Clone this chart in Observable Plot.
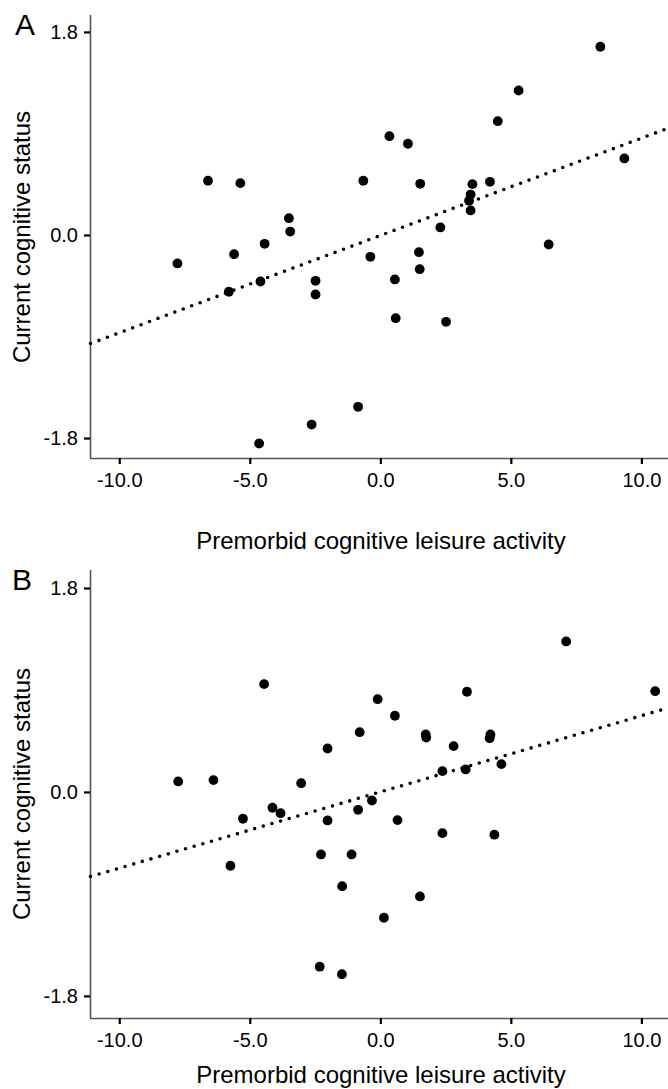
<!DOCTYPE html>
<html>
<head>
<meta charset="utf-8">
<script src="https://cdn.jsdelivr.net/npm/d3@7"></script>
<script src="https://cdn.jsdelivr.net/npm/@observablehq/plot@0.6"></script>
<style>
  html, body { margin: 0; padding: 0; background: #fff; }
  #fig { position: relative; width: 668px; height: 1089px; overflow: hidden; font-family: "Liberation Sans", Arial, sans-serif; color: #000; }
  .panel { position: absolute; left: 0; }
  .lbl { position: absolute; white-space: nowrap; line-height: 1; }
  .xtitle { font-size: 24px; transform: translate(-50%, -50%); }
  .ytitle { font-size: 24px; transform: translate(-50%, -50%) rotate(-90deg); }
  .letter { font-size: 30px; transform: translate(-50%, -50%); }
</style>
</head>
<body>
<div id="fig"></div>
<script>
// ---- Data ----
const panelAX = [-6.62,-5.38,-0.67,-3.52,-3.47,-4.45,-5.62,-7.79,-0.40,-2.50,-4.61,-5.82,-2.50,
  8.41,5.28,4.48,0.33,1.04,9.33,1.51,3.51,4.18,3.44,3.38,3.44,2.28,1.46,1.49,0.54,6.43,0.57,2.50,-0.87,-2.65,-4.66];
const panelAY = [0.485,0.464,0.485,0.153,0.035,-0.074,-0.166,-0.248,-0.189,-0.402,-0.408,-0.499,-0.523,
  1.673,1.285,1.013,0.880,0.813,0.683,0.458,0.455,0.476,0.363,0.308,0.222,0.071,-0.148,-0.299,-0.390,-0.080,-0.733,-0.765,-1.519,-1.676,-1.844];

const panelBX = [-7.76,-6.41,-5.76,-5.28,-4.47,-4.15,-3.84,-3.05,-2.29,-2.34,-2.04,-2.04,-1.49,-1.48,-1.12,-0.87,-0.81,-0.34,
  -0.12,0.12,0.54,0.64,1.50,1.72,1.74,2.36,2.36,2.79,3.25,3.30,4.17,4.20,4.35,4.62,7.10,10.51];
const panelBY = [0.097,0.109,-0.647,-0.232,0.956,-0.135,-0.183,0.082,-0.547,-1.538,0.388,-0.247,-1.604,-0.827,-0.547,-0.153,0.532,-0.071,
  0.823,-1.106,0.677,-0.244,-0.918,0.512,0.485,0.188,-0.359,0.409,0.203,0.889,0.479,0.512,-0.373,0.250,1.333,0.894];

// fitted (dotted) lines, endpoints
const fitAX = [-11.12, 11.02];
const fitAY = [-0.958, 0.952];
const fitBX = [-11.12, 11.02];
const fitBY = [-0.742, 0.747];

const xTicks = [-10, -5, 0, 5, 10];
const yTicks = [-1.8, 0, 1.8];
const xTitle = "Premorbid cognitive leisure activity";
const yTitle = "Current cognitive status";
const panelLetters = ["A", "B"];

// ---- Drawing ----
const fig = document.getElementById("fig");
const toRows = (xs, ys) => xs.map((x, i) => ({x, y: ys[i]}));
const fmt = d => d.toFixed(1);

function panel({pts, fit, yDomain, height, marginTop, marginBottom}) {
  const xDomain = [-11.12, 11.02];
  return Plot.plot({
    width: 668,
    height,
    marginLeft: 90,
    marginRight: 0,
    marginTop,
    marginBottom,
    style: {fontFamily: "'Liberation Sans', Arial, sans-serif", fontSize: "20px", color: "#000", background: "#fff", overflow: "visible"},
    x: {domain: xDomain},
    y: {domain: yDomain},
    marks: [
      Plot.ruleX([xDomain[0]], {stroke: "#555", strokeWidth: 1.6}),
      Plot.ruleY([yDomain[0]], {stroke: "#555", strokeWidth: 1.6}),
      Plot.axisX({ticks: xTicks, tickFormat: fmt, tickSize: 6, tickPadding: 8, label: null, strokeWidth: 2.2, fontSize: 20}),
      Plot.axisY({ticks: yTicks, tickFormat: fmt, tickSize: 6, tickPadding: 6.5, label: null, strokeWidth: 2.2, fontSize: 20}),
      Plot.line(fit, {x: "x", y: "y", stroke: "#000", strokeWidth: 3.6, strokeDasharray: "0,9", strokeLinecap: "round"}),
      Plot.dot(pts, {x: "x", y: "y", r: 4.9, fill: "#000", stroke: "none"})
    ]
  });
}

const cfgs = [
  {top: 0, pts: toRows(panelAX, panelAY), fit: toRows(fitAX, fitAY), yDomain: [-1.977, 1.950], height: 560, marginTop: 15, marginBottom: 102,
   xt: [381, 541], yt: [22, 237], letter: [25, 25]},
  {top: 560, pts: toRows(panelBX, panelBY), fit: toRows(fitBX, fitBY), yDomain: [-1.995, 1.959], height: 529, marginTop: 10, marginBottom: 71,
   xt: [381, 1075], yt: [22, 794], letter: [22, 580]}
];

cfgs.forEach((c, i) => {
  const svg = panel(c);
  const wrap = document.createElement("div");
  wrap.className = "panel";
  wrap.style.top = c.top + "px";
  wrap.appendChild(svg);
  fig.appendChild(wrap);

  const xt = document.createElement("div");
  xt.className = "lbl xtitle";
  xt.style.left = c.xt[0] + "px"; xt.style.top = c.xt[1] + "px";
  xt.textContent = xTitle;
  fig.appendChild(xt);

  const yt = document.createElement("div");
  yt.className = "lbl ytitle";
  yt.style.left = c.yt[0] + "px"; yt.style.top = c.yt[1] + "px";
  yt.textContent = yTitle;
  fig.appendChild(yt);

  const lt = document.createElement("div");
  lt.className = "lbl letter";
  lt.style.left = c.letter[0] + "px"; lt.style.top = c.letter[1] + "px";
  lt.textContent = panelLetters[i];
  fig.appendChild(lt);
});
</script>
</body>
</html>
